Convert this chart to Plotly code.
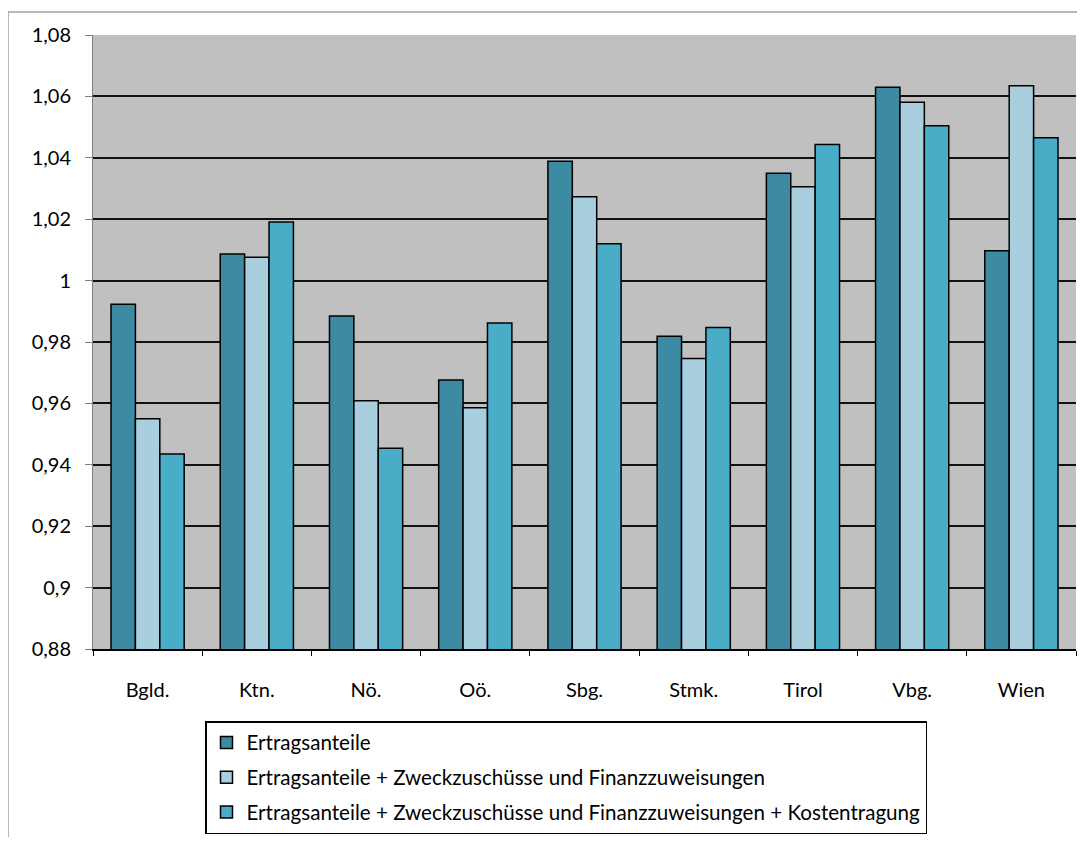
import plotly.graph_objects as go

categories = ["Bgld.", "Ktn.", "Nö.", "Oö.", "Sbg.", "Stmk.", "Tirol", "Vbg.", "Wien"]
series_names = [
    "Ertragsanteile",
    "Ertragsanteile + Zweckzuschüsse und Finanzzuweisungen",
    "Ertragsanteile + Zweckzuschüsse und Finanzzuweisungen + Kostentragung",
]
ertragsanteile = [0.9923, 1.0087, 0.9885, 0.9676, 1.0389, 0.9819, 1.0350, 1.0630, 1.0097]
plus_zweck = [0.9550, 1.0076, 0.9609, 0.9586, 1.0273, 0.9746, 1.0306, 1.0581, 1.0635]
plus_kosten = [0.9435, 1.0191, 0.9454, 0.9862, 1.0120, 0.9847, 1.0443, 1.0504, 1.0465]
y_ticks = [0.88, 0.90, 0.92, 0.94, 0.96, 0.98, 1.00, 1.02, 1.04, 1.06, 1.08]
y_tick_labels = ["0,88", "0,9", "0,92", "0,94", "0,96", "0,98", "1", "1,02", "1,04", "1,06", "1,08"]

colors = ["#3D8BA3", "#A9CEDE", "#4AADC8"]
values = [ertragsanteile, plus_zweck, plus_kosten]

# page body has an 8px margin; figure origin is at viewport (8, 8)
OFF = 8
W, H = 1085 - 2 * OFF, 845 - 2 * OFF
px_left, px_right, px_top, px_bottom = 93, 1076, 35, 649  # viewport coords of plot area
L = px_left - OFF
R = W - (px_right - OFF)
T = px_top - OFF
B = H - (px_bottom - OFF)
pw, ph = W - L - R, H - T - B


def xp(vx):
    return (vx - px_left) / pw


def yp(vy):
    return (px_bottom - vy) / ph


fig = go.Figure()
for i, (name, vals) in enumerate(zip(series_names, values)):
    fig.add_trace(go.Bar(
        x=categories, y=vals, name=name,
        marker=dict(color=colors[i], line=dict(color="#000000", width=1.5)),
        legendgroup=f"g{i}",
    ))

font_family = "Lato, Open Sans, sans-serif"

fig.update_layout(
    width=W, height=H,
    margin=dict(l=L, r=R, t=T, b=B, autoexpand=False),
    paper_bgcolor="white",
    plot_bgcolor="#C0C0C0",
    barmode="group",
    bargap=0.33,
    bargroupgap=0,
    font=dict(family=font_family, size=19, color="#000000"),
    showlegend=True,
    legend=dict(
        x=xp(205), y=yp(721),
        xanchor="left", yanchor="top",
        bgcolor="white", bordercolor="#000000", borderwidth=1.5,
        font=dict(family=font_family, size=20.6, color="#000000"),
        traceorder="grouped", tracegroupgap=5,
        itemwidth=30,
    ),
    xaxis=dict(
        type="category",
        showgrid=False,
        ticks="outside", ticklen=5, tickcolor="#000000", tickwidth=1,
        tickson="boundaries",
        showline=True, linecolor="#000000", linewidth=1.5,
        ticklabelstandoff=22,
        tickfont=dict(family=font_family, size=20),
    ),
    yaxis=dict(
        range=[0.88, 1.08],
        tickvals=y_ticks, ticktext=y_tick_labels,
        showgrid=True, gridcolor="#111111", gridwidth=1.5,
        ticks="outside", ticklen=7, tickcolor="#808080", tickwidth=1,
        showline=True, linecolor="#808080", linewidth=1,
        zeroline=False,
        ticklabelstandoff=10,
        tickfont=dict(family=font_family, size=20),
    ),
    shapes=[
        dict(type="line", xref="paper", yref="paper",
             x0=xp(8), x1=xp(1100), y0=yp(12), y1=yp(12),
             line=dict(color="#A0A0A0", width=1.5)),
        dict(type="line", xref="paper", yref="paper",
             x0=xp(8), x1=xp(8), y0=yp(12), y1=yp(860),
             line=dict(color="#A0A0A0", width=1.5)),
    ],
)

fig.write_html("out.html")
